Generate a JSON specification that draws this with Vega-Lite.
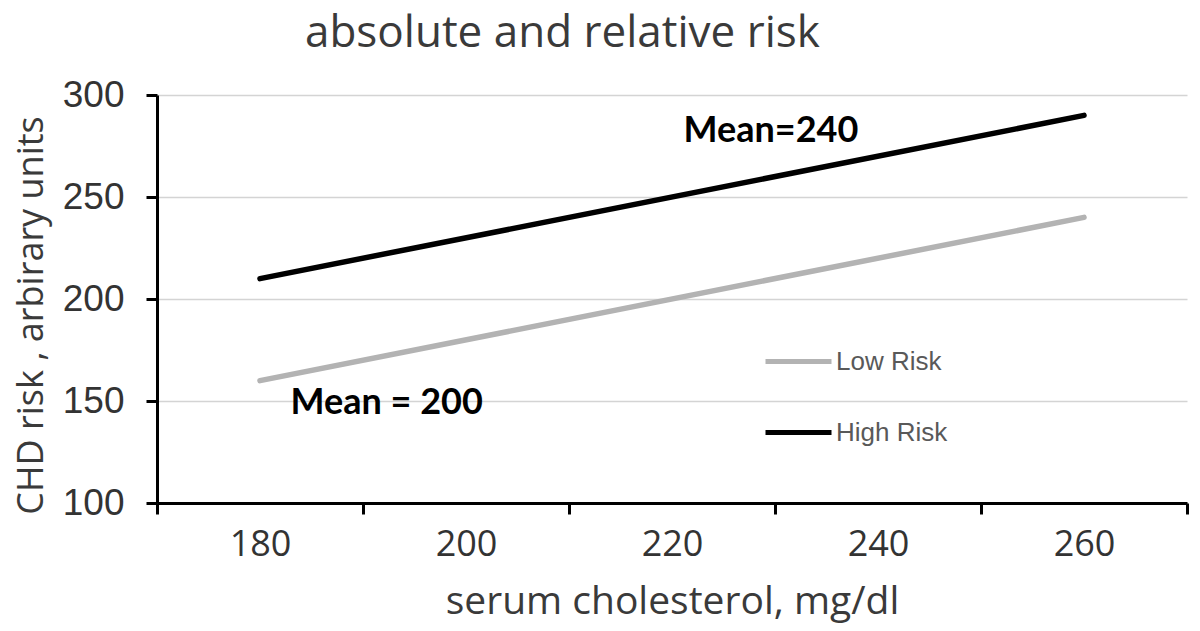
{
  "$schema": "https://vega.github.io/schema/vega-lite/v6.json",
  "description": "CHD risk vs serum cholesterol: absolute and relative risk",
  "width": 1030,
  "height": 408,
  "autosize": "none",
  "padding": {"left": 157, "top": 95, "right": 13, "bottom": 128},
  "background": "white",
  "config": {
    "view": {"stroke": null}
  },
  "title": {
    "text": "absolute and relative risk",
    "font": "Open Sans",
    "fontSize": 44,
    "fontWeight": "normal",
    "color": "#3a3a3a",
    "anchor": "start",
    "frame": "group",
    "dx": 148,
    "offset": 20
  },
  "layer": [
    {
      "data": {
        "values": [
          {"chol": 180, "risk": 160, "group": "Low Risk"},
          {"chol": 260, "risk": 240, "group": "Low Risk"},
          {"chol": 180, "risk": 210, "group": "High Risk"},
          {"chol": 260, "risk": 290, "group": "High Risk"}
        ]
      },
      "mark": {"type": "line", "strokeWidth": 5.5, "strokeCap": "round"},
      "encoding": {
        "x": {
          "field": "chol",
          "type": "quantitative",
          "title": "serum cholesterol, mg/dl",
          "scale": {"domain": [170, 270], "nice": false, "zero": false},
          "axis": {
            "values": [170, 180, 190, 200, 210, 220, 230, 240, 250, 260, 270],
            "labelExpr": "datum.value % 20 == 0 ? datum.label : ''",
            "tickOpacity": {"condition": {"test": "datum.value % 20 == 10", "value": 1}, "value": 0},
            "grid": false,
            "domainColor": "#000000",
            "domainWidth": 3,
            "tickColor": "#000000",
            "tickWidth": 3,
            "tickSize": 11,
            "labelFont": "Open Sans",
            "labelFontSize": 36,
            "labelColor": "#333333",
            "labelPadding": 13,
            "titleFont": "Open Sans",
            "titleFontSize": 39,
            "titleFontWeight": "normal",
            "titleColor": "#3a3a3a",
            "titlePadding": 20
          }
        },
        "y": {
          "field": "risk",
          "type": "quantitative",
          "title": "CHD risk , arbirary units",
          "scale": {"domain": [100, 300], "nice": false, "zero": false},
          "axis": {
            "values": [100, 150, 200, 250, 300],
            "grid": true,
            "gridColor": "#d4d4d4",
            "gridWidth": 1.5,
            "domainColor": "#000000",
            "domainWidth": 3,
            "tickColor": "#000000",
            "tickWidth": 3,
            "tickSize": 11,
            "labelFont": "Liberation Sans",
            "labelFontSize": 37,
            "labelColor": "#333333",
            "labelPadding": 22,
            "titleFont": "Open Sans",
            "titleFontSize": 36,
            "titleFontWeight": "normal",
            "titleColor": "#3a3a3a",
            "titlePadding": 12,
            "titleY": 220
          }
        },
        "color": {
          "field": "group",
          "type": "nominal",
          "scale": {"domain": ["Low Risk", "High Risk"], "range": ["#b3b3b3", "#000000"]},
          "legend": {
            "title": null,
            "orient": "none",
            "legendX": 606,
            "legendY": 231,
            "symbolType": "stroke",
            "symbolSize": 4356,
            "symbolStrokeWidth": 5,
            "labelFont": "Liberation Sans",
            "labelFontSize": 26,
            "labelColor": "#595959",
            "labelOffset": 2,
            "rowPadding": 22
          }
        }
      }
    },
    {
      "data": {
        "values": [
          {"chol": 229.6, "risk": 282.4, "note": "Mean=240"},
          {"chol": 192.3, "risk": 149, "note": "Mean = 200"}
        ]
      },
      "mark": {
        "type": "text",
        "font": "Lato",
        "fontSize": 36,
        "fontWeight": "bold",
        "color": "#000000",
        "align": "center",
        "baseline": "middle"
      },
      "encoding": {
        "x": {"field": "chol", "type": "quantitative"},
        "y": {"field": "risk", "type": "quantitative"},
        "text": {"field": "note"}
      }
    }
  ]
}
